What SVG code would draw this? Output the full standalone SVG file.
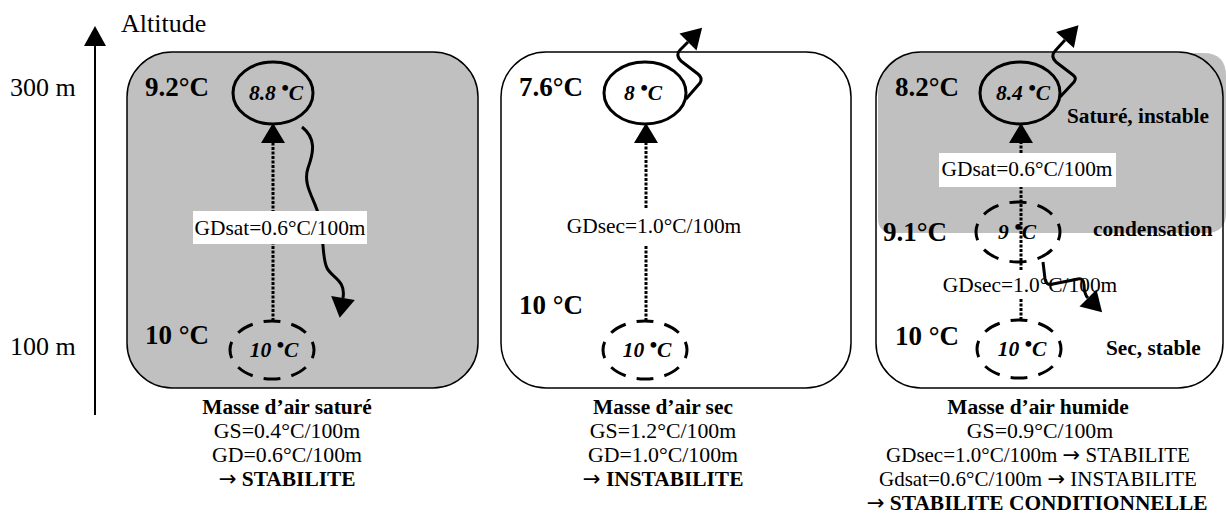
<svg xmlns="http://www.w3.org/2000/svg" width="1226" height="515" viewBox="0 0 1226 515">
  <style>
    text { font-family: "Liberation Serif", "Times New Roman", serif; fill: #000; }
    .axis-label { font-size: 26px; }
    .temp { font-size: 27px; font-weight: bold; }
    .note { font-size: 21.3px; font-weight: bold; }
    .parcel-t { font-size: 21.5px; font-weight: bold; font-style: italic; text-anchor: middle; }
    .grad { font-size: 21.4px; text-anchor: middle; }
    .cap { font-size: 21.8px; text-anchor: middle; }
    .cap-s { font-size: 21px; text-anchor: middle; }
    .cap-b { font-size: 21.4px; font-weight: bold; text-anchor: middle; }
    .arr { font-family: "DejaVu Sans", sans-serif; font-weight: normal; }
    .frame { stroke: #000; stroke-width: 1.5; }
    .parcel { fill: none; stroke: #000; stroke-width: 3; }
    .parcel-start { fill: none; stroke: #000; stroke-width: 3; stroke-dasharray: 6 4; stroke-dashoffset: 3; }
    .ascent { fill: none; stroke: #000; stroke-width: 3; stroke-dasharray: 3 1.5; }
    .drift { fill: none; stroke: #000; stroke-width: 3; stroke-linejoin: round; }
    .label-box { fill: #fff; }
  </style>
  <defs>
    <marker id="head" markerUnits="userSpaceOnUse" markerWidth="24" markerHeight="26" refX="0" refY="0" orient="auto" viewBox="0 -13 22 26" overflow="visible">
      <path d="M0,-12 L20,0 L0,12 Z" fill="#000"/>
    </marker>
  </defs>

  <!-- altitude axis -->
  <g id="axis">
    <line x1="95" y1="415" x2="95" y2="46" stroke="#000" stroke-width="2"/>
    <path d="M84,46 L95,26 L106,46 Z" fill="#000"/>
    <text class="axis-label" x="121" y="32">Altitude</text>
    <text class="axis-label" x="10" y="96">300 m</text>
    <text class="axis-label" x="10" y="355">100 m</text>
  </g>

  <!-- saturated air mass -->
  <g id="panel-sature">
    <rect class="frame" x="127" y="52" width="351" height="336" rx="45" fill="#c0c0c0"/>
    <text class="temp" x="145" y="96">9.2°C</text>
    <text class="temp" x="145" y="344">10 °C</text>
    <text class="cap-b" x="287" y="414">Masse d’air saturé</text>
    <text class="cap" x="287" y="438">GS=0.4°C/100m</text>
    <text class="cap" x="287" y="462">GD=0.6°C/100m</text>
    <text class="cap-b" x="287" y="486"><tspan class="arr">→</tspan> STABILITE</text>
  </g>
  <g id="parcel-sature-top">
    <ellipse class="parcel" cx="273" cy="93" rx="40" ry="31"/>
    <text class="parcel-t" x="276" y="100">8.8 <tspan dy="-5">•</tspan><tspan dy="5">C</tspan></text>
  </g>
  <g id="parcel-sature-base">
    <ellipse class="parcel-start" cx="272" cy="350" rx="42" ry="29" pathLength="80"/>
    <text class="parcel-t" x="274" y="357">10 <tspan dy="-5">•</tspan><tspan dy="5">C</tspan></text>
  </g>

  <!-- dry air mass -->
  <g id="panel-sec">
    <rect class="frame" x="501" y="52" width="350" height="336" rx="45" fill="#fff"/>
    <text class="temp" x="519" y="96">7.6°C</text>
    <text class="temp" x="519" y="314">10 °C</text>
    <text class="cap-b" x="663" y="414">Masse d’air sec</text>
    <text class="cap" x="663" y="438">GS=1.2°C/100m</text>
    <text class="cap" x="663" y="462">GD=1.0°C/100m</text>
    <text class="cap-b" x="663" y="486"><tspan class="arr">→</tspan> INSTABILITE</text>
  </g>
  <g id="parcel-sec-top">
    <ellipse class="parcel" cx="645" cy="93" rx="41" ry="31"/>
    <text class="parcel-t" x="643" y="100">8 <tspan dy="-5">•</tspan><tspan dy="5">C</tspan></text>
  </g>
  <g id="parcel-sec-base">
    <ellipse class="parcel-start" cx="645" cy="350" rx="42" ry="29" pathLength="80"/>
    <text class="parcel-t" x="647" y="357">10 <tspan dy="-5">•</tspan><tspan dy="5">C</tspan></text>
  </g>

  <!-- humid air mass -->
  <g id="panel-humide">
    <rect x="876" y="52" width="347" height="336" rx="45" fill="#fff"/>
    <path d="M921,53 L1203,53 Q1226,53 1226,76 L1226,213 Q1226,233 1206,233 L893,233 Q878,233 878,218 L878,96 Q878,53 921,53 Z" fill="#c0c0c0"/>
    <rect class="frame" x="876" y="52" width="347" height="336" rx="45" fill="none"/>
    <text class="temp" x="895" y="96">8.2°C</text>
    <text class="temp" x="883" y="241">9.1°C</text>
    <text class="temp" x="895" y="345">10 °C</text>
    <text class="note" x="1067" y="123">Saturé, instable</text>
    <text class="note" x="1093" y="236">condensation</text>
    <text class="note" x="1106" y="355">Sec, stable</text>
    <text class="cap-b" x="1038" y="414">Masse d’air humide</text>
    <text class="cap" x="1040" y="438">GS=0.9°C/100m</text>
    <text class="cap-s" x="1038" y="462">GDsec=1.0°C/100m <tspan class="arr">→</tspan> STABILITE</text>
    <text class="cap-s" x="1038" y="486">Gdsat=0.6°C/100m <tspan class="arr">→</tspan> INSTABILITE</text>
    <text class="cap-b" x="1037" y="510"><tspan class="arr">→</tspan> STABILITE CONDITIONNELLE</text>
  </g>
  <g id="parcel-humide-top">
    <ellipse class="parcel" cx="1020" cy="93" rx="40" ry="31"/>
    <text class="parcel-t" x="1023" y="100">8.4 <tspan dy="-5">•</tspan><tspan dy="5">C</tspan></text>
  </g>
  <g id="parcel-humide-mid">
    <ellipse class="parcel-start" cx="1018" cy="232" rx="42" ry="30" pathLength="80"/>
    <text class="parcel-t" x="1017" y="239">9 <tspan dy="-5">•</tspan><tspan dy="5">C</tspan></text>
  </g>
  <g id="parcel-humide-base">
    <ellipse class="parcel-start" cx="1019" cy="349" rx="42" ry="29" pathLength="80"/>
    <text class="parcel-t" x="1022" y="356">10 <tspan dy="-5">•</tspan><tspan dy="5">C</tspan></text>
  </g>

  <!-- ascents, displacement paths and gradient labels -->
  <g id="connectors">
    <path class="ascent" d="M273,321 L273,143" marker-end="url(#head)"/>
    <path class="drift" d="M302,127 C316,138 314,152 308,168 C302,186 316,200 320,220 C324,240 322,258 327,268 C332,278 346,280 343,298" marker-end="url(#head)"/>
    <rect class="label-box" x="193" y="211" width="174" height="33"/>
    <text class="grad" x="280" y="235">GDsat=0.6°C/100m</text>

    <path class="ascent" d="M646,321 L646,245"/>
    <path class="ascent" d="M646,208 L646,143" marker-end="url(#head)"/>
    <text class="grad" x="654" y="233">GDsec=1.0°C/100m</text>
    <path class="drift" d="M686,99 L700,83 Q703,78 698,74 L681,61 Q675,55 680,50 L688,42" marker-end="url(#head)"/>

    <path class="ascent" d="M1021,320 L1021,298"/>
    <path class="ascent" d="M1021,270 L1021,143" marker-end="url(#head)"/>
    <rect class="label-box" x="939" y="153" width="177" height="34"/>
    <text class="grad" x="1027" y="176">GDsat=0.6°C/100m</text>
    <text class="grad" x="1030" y="292">GDsec=1.0°C/100m</text>
    <path class="drift" d="M1060,97 L1074,82 Q1077,78 1073,75 L1056,62 Q1050,56 1055,51 L1065,40" marker-end="url(#head)"/>
    <path class="drift" d="M1043,262 L1045,279 Q1046,286 1053,284 L1078,279 Q1084,278 1084,285 Q1084,294 1088,298" marker-end="url(#head)"/>
  </g>
</svg>
